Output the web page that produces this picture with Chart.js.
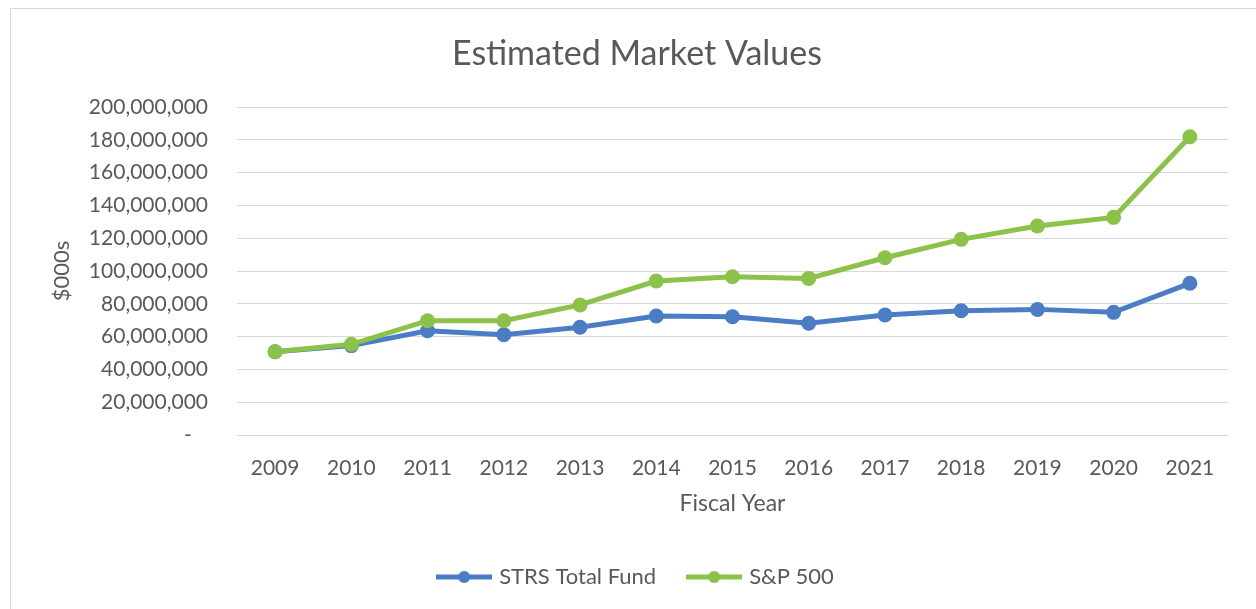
<!DOCTYPE html>
<html>
<head>
<meta charset="utf-8">
<script src="https://cdn.jsdelivr.net/npm/chart.js@4.4.1/dist/chart.umd.min.js"></script>
<style>
  html, body { margin: 0; padding: 0; background: #ffffff; }
  #frame { position: absolute; left: 10px; top: 8px; width: 1260px; height: 640px; border: 1px solid #d9d9d9; box-sizing: border-box; }
  #wrap { position: absolute; left: 0; top: 0; width: 1256px; height: 609px; }
</style>
</head>
<body>
<div id="frame"></div>
<div id="wrap"><canvas id="c" width="1256" height="609"></canvas></div>
<script>
const years = ['2009','2010','2011','2012','2013','2014','2015','2016','2017','2018','2019','2020','2021'];
const strsTotalFund = [50800000, 54500000, 63600000, 61200000, 65700000, 72600000, 72100000, 68100000, 73200000, 75800000, 76600000, 74800000, 92500000];
const sp500 = [50800000, 55300000, 69700000, 69700000, 79300000, 93900000, 96500000, 95500000, 108100000, 119300000, 127400000, 132700000, 181900000];
const seriesNames = ['STRS Total Fund', 'S&P 500'];
const yTicks = { min: 0, max: 200000000, step: 20000000 };

const BLUE = '#4a7dc4';
const GREEN = '#8cc24a';
const TEXT = '#595959';
const FONT = 'Lato';

function legendIcon(color) {
  const cv = document.createElement('canvas');
  cv.width = 56; cv.height = 14;
  const g = cv.getContext('2d');
  g.strokeStyle = color; g.lineWidth = 5;
  g.beginPath(); g.moveTo(0, 7); g.lineTo(56, 7); g.stroke();
  g.fillStyle = color;
  g.beginPath(); g.arc(28, 7, 6, 0, Math.PI * 2); g.fill();
  return cv;
}
const icons = [legendIcon(BLUE), legendIcon(GREEN)];

new Chart(document.getElementById('c'), {
  type: 'line',
  data: {
    labels: years,
    datasets: [
      { label: seriesNames[0], data: strsTotalFund, borderColor: BLUE, backgroundColor: BLUE,
        borderWidth: 5, pointRadius: 7.5, pointHoverRadius: 7.5, pointBorderWidth: 0, order: 1, tension: 0 },
      { label: seriesNames[1], data: sp500, borderColor: GREEN, backgroundColor: GREEN,
        borderWidth: 5, pointRadius: 7.5, pointHoverRadius: 7.5, pointBorderWidth: 0, order: 0, tension: 0 }
    ]
  },
  options: {
    responsive: false,
    animation: false,
    events: [],
    layout: { padding: { top: 0, left: 46, right: 28, bottom: 11 } },
    plugins: {
      tooltip: { enabled: false },
      title: {
        display: true,
        text: 'Estimated Market Values',
        color: TEXT,
        font: { family: FONT, size: 34, weight: 'normal' },
        padding: { top: 33.6, bottom: 32.6 }
      },
      legend: {
        position: 'bottom',
        labels: {
          color: TEXT,
          font: { family: FONT, size: 22 },
          usePointStyle: true,
          pointStyleWidth: 48,
          padding: 34,
          generateLabels: (chart) => chart.data.datasets.map((ds, i) => ({
            text: ds.label,
            fillStyle: ds.borderColor,
            strokeStyle: ds.borderColor,
            fontColor: TEXT,
            lineWidth: 0,
            pointStyle: icons[i],
            hidden: false,
            datasetIndex: i
          }))
        }
      }
    },
    scales: {
      x: {
        offset: true,
        grid: { display: false, drawTicks: false, offset: true },
        border: { display: false },
        ticks: { color: TEXT, font: { family: FONT, size: 21 }, padding: 21, maxRotation: 0 },
        title: { display: true, text: 'Fiscal Year', color: TEXT, font: { family: FONT, size: 23 }, padding: { top: 0, bottom: 14.2 } },
        afterFit: (s) => { s.height = 97; }
      },
      y: {
        min: yTicks.min, max: yTicks.max,
        grid: { color: '#d9d9d9', lineWidth: 1, drawTicks: false },
        border: { display: false },
        ticks: {
          stepSize: yTicks.step,
          color: TEXT,
          font: { family: FONT, size: 21 },
          padding: 29,
          callback: (v) => v === 0 ? '-   ' : Number(v).toLocaleString('en-US')
        },
        title: { display: true, text: '$000s', color: TEXT, font: { family: FONT, size: 22 }, padding: { top: 3, bottom: 0 } },
        afterFit: (s) => { s.width = 191; }
      }
    }
  }
});
</script>
</body>
</html>
